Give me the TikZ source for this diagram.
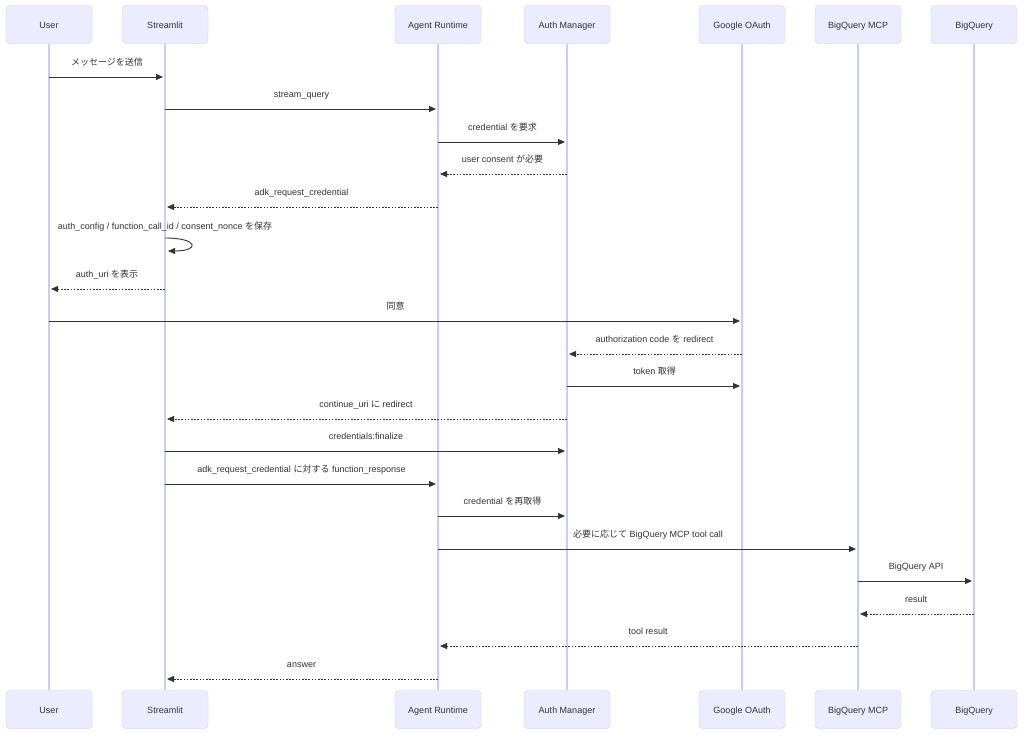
\documentclass[tikz,border=0pt]{standalone}
\usepackage{fontspec}
\setmainfont{Liberation Sans}
\newfontfamily\jafont{Noto Sans CJK JP}
\usetikzlibrary{arrows.meta,positioning}
\definecolor{actorfill}{HTML}{ECECFF}
\definecolor{actorline}{HTML}{CACAF6}
\definecolor{lifecol}{HTML}{CBCBFA}
\definecolor{msgcol}{HTML}{333333}
\newcommand{\ja}[1]{{\jafont #1}}

\begin{document}
\begin{tikzpicture}[
    x=1pt,y=-1pt,
    >={Triangle[length=7pt,width=6pt]},
    actor/.style={draw=actorline,fill=actorfill,rounded corners=4pt,
                  minimum width=86pt,minimum height=38pt,
                  text height=8.5pt,text depth=0pt,
                  font=\fontsize{9}{11}\selectfont,text=msgcol},
    lifeline/.style={lifecol,line width=1.1pt},
    msg/.style  ={->,msgcol,line width=0.9pt,shorten >=2pt},
    reply/.style={msg,dash pattern=on 1.6pt off 1.6pt},
    lbl/.style  ={font=\fontsize{9}{11}\selectfont,text=msgcol,
                  inner sep=0pt,text height=7pt,text depth=2pt},
  ]
  \fill[white] (0,0) rectangle (1024,734);
  \useasboundingbox (0,0) rectangle (1024,734);

  %% Participants (top and bottom)
  \node[actor] (user)   at (49,24.5)  {User};
  \node[actor] (stream) at (165,24.5) {Streamlit};
  \node[actor] (agent)  at (438,24.5) {Agent Runtime};
  \node[actor] (auth)   at (567,24.5) {Auth Manager};
  \node[actor] (google) at (742,24.5) {Google OAuth};
  \node[actor] (mcp)    at (858,24.5) {BigQuery MCP};
  \node[actor] (bq)     at (974,24.5) {BigQuery};

  \node[actor] (userB)   at (49,709.5)  {User};
  \node[actor] (streamB) at (165,709.5) {Streamlit};
  \node[actor] (agentB)  at (438,709.5) {Agent Runtime};
  \node[actor] (authB)   at (567,709.5) {Auth Manager};
  \node[actor] (googleB) at (742,709.5) {Google OAuth};
  \node[actor] (mcpB)    at (858,709.5) {BigQuery MCP};
  \node[actor] (bqB)     at (974,709.5) {BigQuery};

  %% Lifelines
  \foreach \p in {user,stream,agent,auth,google,mcp,bq}
    \draw[lifeline] (\p.south) -- (\p B.north);

  %% Message rows
  \coordinate (m1) at (0,77);
  \coordinate (m2) at (0,109);
  \coordinate (m3) at (0,142);
  \coordinate (m4) at (0,174);
  \coordinate (m5) at (0,207);
  \coordinate (m6) at (0,238);
  \coordinate (m6b) at (0,251);
  \coordinate (m7) at (0,289);
  \coordinate (m8) at (0,321);
  \coordinate (m9) at (0,354);
  \coordinate (m10) at (0,386);
  \coordinate (m11) at (0,419);
  \coordinate (m12) at (0,451);
  \coordinate (m13) at (0,484);
  \coordinate (m14) at (0,516);
  \coordinate (m15) at (0,549);
  \coordinate (m16) at (0,581);
  \coordinate (m17) at (0,614);
  \coordinate (m18) at (0,646);
  \coordinate (m19) at (0,679);

  %% User -> Streamlit -> Agent
  \draw[msg] (user |- m1) -- node[lbl,above=9pt]{\ja{メッセージを送信}} (stream |- m1);
  \draw[msg] (stream |- m2) -- node[lbl,above=9pt]{stream\_query} (agent |- m2);

  %% credential request
  \draw[msg] (agent |- m3) -- node[lbl,above=9pt]{credential \ja{を要求}} (auth |- m3);
  \draw[reply] (auth |- m4) -- node[lbl,above=9pt]{user consent \ja{が必要}} (agent |- m4);
  \draw[reply] (agent |- m5) -- node[lbl,above=9pt]{adk\_request\_credential} (stream |- m5);

  %% Self call on Streamlit
  \node[lbl,above=6pt] (selflbl) at (stream |- m6)
    {auth\_config / function\_call\_id / consent\_nonce \ja{を保存}};
  \draw[msg] (stream |- m6) .. controls +(34,0) and +(34,0) .. ([xshift=1pt]stream |- m6b);

  \draw[reply] (stream |- m7) -- node[lbl,above=9pt]{auth\_uri \ja{を表示}} (user |- m7);

  %% OAuth round trip
  \draw[msg] (user |- m8) -- node[lbl,above=9pt]{\ja{同意}} (google |- m8);
  \draw[reply] (google |- m9) -- node[lbl,above=9pt]{authorization code \ja{を} redirect} (auth |- m9);
  \draw[msg] (auth |- m10) -- node[lbl,above=9pt]{token \ja{取得}} (google |- m10);
  \draw[reply] (auth |- m11) -- node[lbl,above=9pt]{continue\_uri \ja{に} redirect} (stream |- m11);
  \draw[msg] (stream |- m12) -- node[lbl,above=9pt]{credentials:finalize} (auth |- m12);

  %% Resume agent
  \draw[msg] (stream |- m13) -- node[lbl,above=9pt]
    {adk\_request\_credential \ja{に対する} function\_response} (agent |- m13);
  \draw[msg] (agent |- m14) -- node[lbl,above=9pt]{credential \ja{を再取得}} (auth |- m14);

  %% BigQuery tool call
  \draw[msg] (agent |- m15) -- node[lbl,above=9pt]
    {\ja{必要に応じて} BigQuery MCP tool call} (mcp |- m15);
  \draw[msg] (mcp |- m16) -- node[lbl,above=9pt]{BigQuery API} (bq |- m16);
  \draw[reply] (bq |- m17) -- node[lbl,above=9pt]{result} (mcp |- m17);
  \draw[reply] (mcp |- m18) -- node[lbl,above=9pt]{tool result} (agent |- m18);
  \draw[reply] (agent |- m19) -- node[lbl,above=9pt]{answer} (stream |- m19);
\end{tikzpicture}
\end{document}
